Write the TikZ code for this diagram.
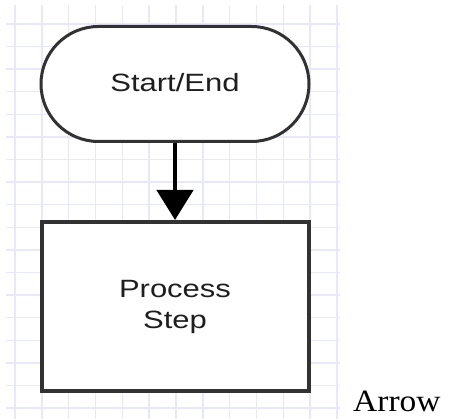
\documentclass[tikz,border=0pt]{standalone}
\usepackage{graphicx}
\usepackage{fontspec}
\setmainfont{Liberation Serif}
\newfontfamily\flowfont{Liberation Sans}
\usetikzlibrary{arrows.meta}
\definecolor{gridlav}{RGB}{232,232,252}
\definecolor{edgegray}{RGB}{50,50,50}
\definecolor{inkdark}{RGB}{30,30,30}
\tikzset{
  gridline/.style={draw=gridlav, line width=1.4pt},
  terminal/.style={draw=edgegray, line width=3pt, fill=white,
    minimum width=268pt, minimum height=115pt, rounded corners=57.5pt,
    inner sep=0pt, text=inkdark, align=center,
    font=\flowfont\fontsize{25}{31}\selectfont},
  procbox/.style={draw=edgegray, line width=4pt, fill=white,
    minimum width=267pt, minimum height=169pt,
    inner sep=0pt, text=inkdark, align=center,
    font=\flowfont\fontsize{25}{31}\selectfont},
  flowarrow/.style={draw=black, line width=4.5pt,
    -{Triangle[width=36pt,length=30pt]}},
  caption/.style={inner sep=0pt, text=black,
    font=\fontsize{31}{37}\selectfont}
}
\newcommand{\widetext}[1]{\scalebox{1.24}[1]{#1}}
\begin{document}
\begin{tikzpicture}[x=1pt,y=-1pt]
  \useasboundingbox (0,0) rectangle (450,419);
  \fill[white] (0,0) rectangle (450,419);
  % background grid
  \foreach \i in {0,...,12}
    \draw[gridline] ({15+26.83*\i},5) -- ({15+26.83*\i},419);
  \foreach \j in {0,...,17}
    \draw[gridline] (6,{24+22.6*\j}) -- (340,{24+22.6*\j});
  % flowchart shapes
  \node[terminal] (start) at (175,84) {\raisebox{2.5pt}{\widetext{Start/End}}};
  \node[procbox] (proc) at (175,306.5) {\widetext{Process}\\\widetext{Step}};
  \draw[flowarrow] (start.south) -- (proc.north);
  % caption
  \node[caption, anchor=base west] (cap) at (353,412) {\scalebox{1.08}[1]{Arrow}};
\end{tikzpicture}
\end{document}
